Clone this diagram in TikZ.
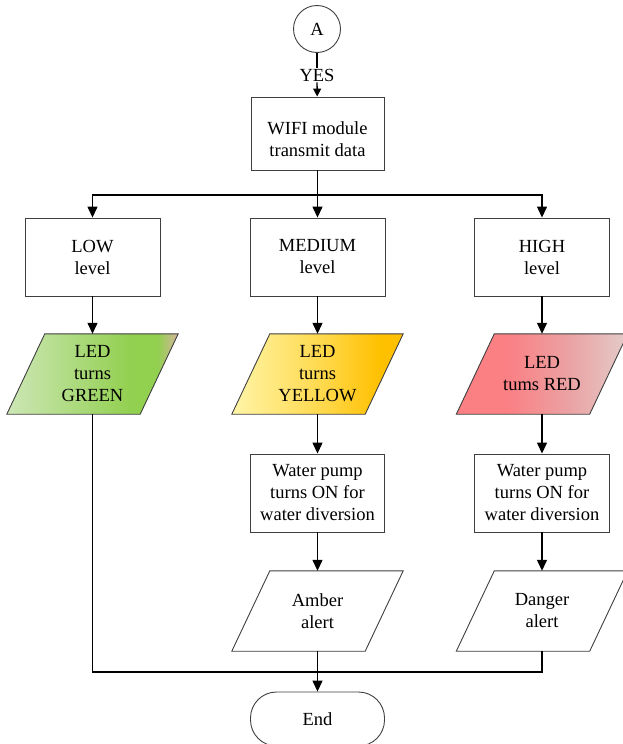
\documentclass[tikz,border=0pt]{standalone}
\usepackage{fontspec}
\setmainfont{Liberation Serif}
\usetikzlibrary{arrows.meta,calc,backgrounds}
\definecolor{edge}{HTML}{3F3F3F}
\definecolor{gA}{HTML}{CDE7B6}
\definecolor{gB}{HTML}{92D050}
\definecolor{gC}{HTML}{D6B59C}
\definecolor{yA}{HTML}{FFF5A8}
\definecolor{yB}{HTML}{FFD84A}
\definecolor{yC}{HTML}{FFC000}
\definecolor{rA}{HTML}{FA8084}
\definecolor{rB}{HTML}{EBA2A3}
\definecolor{rC}{HTML}{E3CCCA}
\pgfdeclarehorizontalshading{grsh}{100bp}{color(0bp)=(gA); color(25bp)=(gA); color(61bp)=(gB); color(69bp)=(gB); color(75bp)=(gC); color(100bp)=(gC)}
\pgfdeclarehorizontalshading{yesh}{100bp}{color(0bp)=(yA); color(25bp)=(yA); color(52bp)=(yB); color(68bp)=(yC); color(100bp)=(yC)}
\pgfdeclarehorizontalshading{resh}{100bp}{color(0bp)=(rA); color(25bp)=(rA); color(40bp)=(rA); color(58bp)=(rB); color(75bp)=(rC); color(100bp)=(rC)}
\tikzset{
  txt/.style={font=\fontsize{18.5}{22}\selectfont, align=center, text=black},
  box/.style={txt, draw=edge, line width=0.9pt, inner sep=0pt, minimum width=134pt, minimum height=78pt, fill=white},
  pbox/.style={txt, inner sep=0pt, minimum width=171pt, minimum height=80pt},
  para/.style={draw=edge, line width=0.9pt},
  conn/.style={line width=1.3pt, draw=black},
  arr/.style={conn, -{Triangle[length=11pt,width=10pt]}},
  sarr/.style={conn, -{Triangle[length=8pt,width=8pt]}},
}
\newcommand{\paraShape}[2]{%
  \path[para, shade, shading=#2] ($(#1.north west)+(38pt,0)$) -- (#1.north east) -- ($(#1.south east)-(38pt,0)$) -- (#1.south west) -- cycle;}
\begin{document}
\begin{tikzpicture}[x=1pt,y=1pt]
\useasboundingbox (0,0) rectangle (622,-744);
\node[txt, draw=edge, line width=0.9pt, circle, minimum size=47pt, inner sep=0pt] (A) at (317,-29) {A};
\node[txt, inner sep=1pt] (yes) at (317,-75) {YES};
\node[box, minimum width=133pt, minimum height=73pt, text depth=0pt] (wifi) at (317.5,-133.5) {\raisebox{2pt}{\begin{tabular}{@{}c@{}}WIFI module\\transmit data\end{tabular}}};
\coordinate (br) at (317.5,-195);
\node[box, minimum width=135pt] (low) at (92.5,-257) {LOW\\level};
\node[box, minimum width=135pt] (med) at (317.5,-257) {MEDIUM\\level};
\node[box, minimum width=135pt] (high) at (542,-257) {HIGH\\level};
\node[pbox] (gp) at (92.5,-374) {LED\\turns\\GREEN};
\node[pbox] (yp) at (317.5,-374) {LED\\turns\\YELLOW};
\node[pbox] (rp) at (542,-374) {LED\\tums RED};
\node[box] (wp1) at (317.5,-493) {Water pump\\turns ON for\\water diversion};
\node[box, minimum width=135pt] (wp2) at (542,-493) {Water pump\\turns ON for\\water diversion};
\node[pbox] (ap) at (317.5,-611) {Amber\\alert};
\node[pbox] (dp) at (542,-611) {Danger\\alert};
\coordinate (join) at (317.5,-672);
\node[txt, draw=edge, line width=0.9pt, rounded corners=26pt, minimum width=134pt, minimum height=54pt, inner sep=0pt] (end) at (317.5,-719) {End};
\begin{scope}[on background layer]
\paraShape{gp}{grsh}
\paraShape{yp}{yesh}
\paraShape{rp}{resh}
\path[para, fill=white] ($(ap.north west)+(38pt,0)$) -- (ap.north east) -- ($(ap.south east)-(38pt,0)$) -- (ap.south west) -- cycle;
\path[para, fill=white] ($(dp.north west)+(38pt,0)$) -- (dp.north east) -- ($(dp.south east)-(38pt,0)$) -- (dp.south west) -- cycle;
\end{scope}
\draw[conn] (A) -- (yes);
\draw[sarr] (yes) -- (wifi);
\draw[conn] (wifi) -- (br);
\draw[arr] (br) -- (med);
\draw[arr] (br) -| (low);
\draw[arr] (br) -| (high);
\draw[arr] (low) -- (gp);
\draw[arr] (med) -- (yp);
\draw[arr] (high) -- (rp);
\draw[arr] (yp) -- (wp1);
\draw[arr] (rp) -- (wp2);
\draw[arr] (wp1) -- (ap);
\draw[arr] (wp2) -- (dp);
\draw[conn] (gp.south) |- (join);
\draw[conn] (dp.south) |- (join);
\draw[arr] (ap) -- (end);
\end{tikzpicture}
\end{document}
